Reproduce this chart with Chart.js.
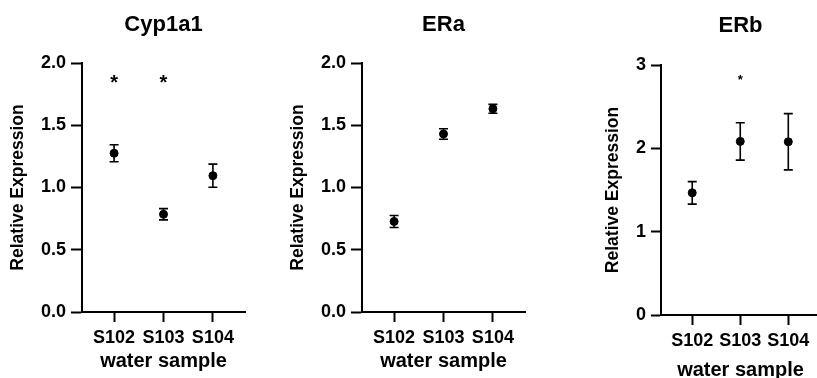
<!DOCTYPE html>
<html><head><meta charset="utf-8">
<script src="https://cdn.jsdelivr.net/npm/chart.js@4"></script>
<style>
html,body{margin:0;padding:0;background:#fff;overflow:hidden;width:817px;height:378px;position:relative;}
canvas{position:absolute;top:0;}
</style></head><body>
<canvas id="c1" width="270" height="378" style="left:0px"></canvas>
<canvas id="c2" width="270" height="378" style="left:280px"></canvas>
<canvas id="c3" width="230" height="390" style="left:595px"></canvas>
<script>
// ---- data ----
const categories = ['S102', 'S103', 'S104'];
const panelTitles = ['Cyp1a1', 'ERa', 'ERb'];
const yAxisTitle = 'Relative Expression';
const xAxisTitle = 'water sample';

const cypMean = [1.275, 0.785, 1.095];
const cypErr  = [0.068, 0.045, 0.093];
const cypSig  = [1.87, 1.87, null];   // '*' marker heights

const eraMean = [0.727, 1.430, 1.632];
const eraErr  = [0.048, 0.042, 0.036];
const eraSig  = [null, null, null];

const erbMean = [1.466, 2.083, 2.079];
const erbErr  = [0.135, 0.224, 0.337];
const erbSig  = [null, 2.85, null];

const yTicksA = [0, 0.5, 1.0, 1.5, 2.0];
const yTicksB = [0, 1, 2, 3];

// ---- drawing ----
const FONT = '"Liberation Sans", Arial, Helvetica, sans-serif';

const errPlugin = {
  id: 'errbars',
  beforeDatasetsDraw(chart, args, opts) {
    const {ctx, scales: {x, y}} = chart;
    const ds = chart.data.datasets[0];
    ctx.save();
    ctx.strokeStyle = '#000';
    ctx.lineWidth = 1.6;
    ds.data.forEach((p, i) => {
      const e = opts.err[i];
      const px = x.getPixelForValue(p.x);
      const t = y.getPixelForValue(p.y + e), b = y.getPixelForValue(p.y - e);
      ctx.beginPath();
      ctx.moveTo(px, t); ctx.lineTo(px, b);
      ctx.moveTo(px - 4.5, t); ctx.lineTo(px + 4.5, t);
      ctx.moveTo(px - 4.5, b); ctx.lineTo(px + 4.5, b);
      ctx.stroke();
    });
    ctx.fillStyle = '#000';
    ctx.textAlign = 'center';
    ctx.textBaseline = 'middle';
    ctx.font = 'bold ' + opts.sigSize + 'px ' + FONT;
    opts.sig.forEach((s, i) => {
      if (s == null) return;
      ctx.fillText('*', x.getPixelForValue(i + 1), y.getPixelForValue(s) + opts.sigSize * 0.23);
    });
    ctx.restore();
  }
};

function makePanel(id, title, means, errs, sigs, yTicks, cfg) {
  const yFmt = cfg.decimals ? (v => v.toFixed(1)) : (v => String(v));
  new Chart(document.getElementById(id), {
    type: 'scatter',
    data: {
      datasets: [{
        data: means.map((m, i) => ({x: i + 1, y: m})),
        pointRadius: 4,
        pointBorderWidth: 1,
        backgroundColor: '#000',
        borderColor: '#000',
        showLine: false
      }]
    },
    plugins: [errPlugin],
    options: {
      responsive: false,
      animation: false,
      events: [],
      layout: {padding: {left: 0, right: cfg.padRight, top: 0, bottom: 0}},
      plugins: {
        legend: {display: false},
        tooltip: {enabled: false},
        title: {
          display: true, text: title, fullSize: false,
          color: '#000',
          font: {family: FONT, size: 22, weight: 'bold'},
          padding: {top: cfg.titleTop, bottom: cfg.titleBottom}
        },
        errbars: {err: errs, sig: sigs, sigSize: cfg.sigSize}
      },
      scales: {
        x: {
          type: 'linear',
          min: 0.35, max: cfg.xMax,
          afterBuildTicks: s => { s.ticks = categories.map((c, i) => ({value: i + 1})); },
          afterFit: s => { s.height = cfg.xHeight; },
          grid: {display: true, drawOnChartArea: false, drawTicks: true, tickLength: 10, tickWidth: 2, tickColor: '#000', color: '#000'},
          border: {display: true, color: '#000', width: 2},
          ticks: {
            color: '#000', padding: 5, maxRotation: 0, autoSkip: false,
            font: {family: FONT, size: 18, weight: 'bold'},
            callback: v => categories[Math.round(v) - 1]
          },
          title: {display: true, text: xAxisTitle, color: '#000',
            font: {family: FONT, size: 20, weight: 'bold'},
            padding: {top: 0, bottom: cfg.xTitleBottom}}
        },
        y: {
          type: 'linear',
          min: yTicks[0], max: yTicks[yTicks.length - 1],
          afterBuildTicks: s => { s.ticks = yTicks.map(v => ({value: v})); },
          afterFit: s => { s.width = cfg.yWidth; },
          grid: {display: true, drawOnChartArea: false, drawTicks: true, tickLength: cfg.yTick, tickWidth: 2, tickColor: '#000', color: '#000'},
          border: {display: true, color: '#000', width: 2},
          ticks: {
            color: '#000', padding: 5,
            font: {family: FONT, size: 18, weight: 'bold'},
            callback: yFmt
          },
          title: {display: true, text: yAxisTitle, color: '#000',
            font: {family: FONT, size: 17.5, weight: 'bold'},
            padding: {top: 8, bottom: 0}}
        }
      }
    }
  });
}

makePanel('c1', panelTitles[0], cypMean, cypErr, cypSig, yTicksA,
  {decimals: true, padRight: 25, xMax: 3.65, xHeight: 66, yWidth: 82, yTick: 11,
   titleTop: 12, titleBottom: 24.6, xTitleBottom: 4.5, sigSize: 20});
makePanel('c2', panelTitles[1], eraMean, eraErr, eraSig, yTicksA,
  {decimals: true, padRight: 25, xMax: 3.65, xHeight: 66, yWidth: 82, yTick: 11,
   titleTop: 12, titleBottom: 24.6, xTitleBottom: 4.5, sigSize: 20});
makePanel('c3', panelTitles[2], erbMean, erbErr, erbSig, yTicksB,
  {decimals: false, padRight: 0, xMax: 3.66, xHeight: 75, yWidth: 66, yTick: 10,
   titleTop: 13, titleBottom: 25.6, xTitleBottom: 8, sigSize: 13});
</script>
</body></html>
